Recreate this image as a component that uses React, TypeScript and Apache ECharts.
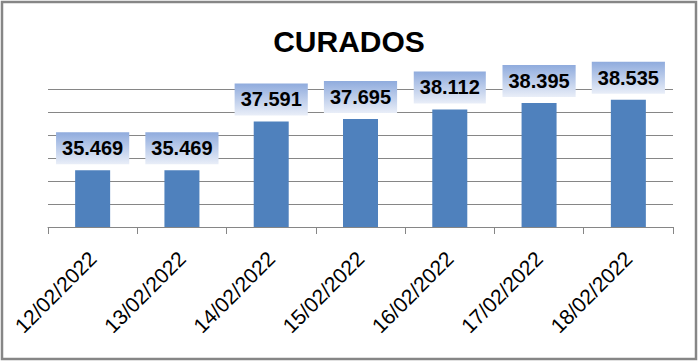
import React, { useEffect, useRef } from "react";
import * as echarts from "echarts";

const categories = ["12/02/2022", "13/02/2022", "14/02/2022", "15/02/2022", "16/02/2022", "17/02/2022", "18/02/2022"];
const curados = [35469, 35469, 37591, 37695, 38112, 38395, 38535];
const titleText = "CURADOS";

const fmt = (v: number) => {
  const s = String(Math.round(v));
  return s.replace(/\B(?=(\d{3})+(?!\d))/g, ".");
};

export default function App() {
  const ref = useRef<HTMLDivElement>(null);
  useEffect(() => {
    if (!ref.current) return;
    const chart = echarts.init(ref.current, undefined, { renderer: "svg" });
    const font = "'Liberation Sans', Arial, sans-serif";
    chart.setOption({
      animation: false,
      backgroundColor: "#ffffff",
      title: {
        text: titleText,
        left: "center",
        top: 26,
        padding: 0,
        textStyle: { fontFamily: font, fontSize: 30, fontWeight: "bold", color: "#000000" },
      },
      graphic: [
        {
          type: "rect",
          shape: { x: 2, y: 2, width: 694, height: 357 },
          style: { fill: "none", stroke: "#868686", lineWidth: 2.5 },
          silent: true,
          z: 100,
        },
      ],
      grid: { left: 48, right: 25, top: 89, height: 138, containLabel: false },
      xAxis: {
        type: "category",
        data: categories,
        axisLine: { show: true, lineStyle: { color: "#868686", width: 1 } },
        axisTick: { show: true, length: 7, lineStyle: { color: "#868686" } },
        axisLabel: {
          rotate: 45,
          margin: 28,
          fontFamily: font,
          fontSize: 21,
          color: "#000000",
          interval: 0,
        },
      },
      yAxis: {
        type: "value",
        min: 33000,
        max: 39000,
        interval: 1000,
        axisLine: { show: false },
        axisTick: { show: false },
        axisLabel: { show: false },
        splitLine: { show: true, lineStyle: { color: "#868686", width: 1 } },
      },
      series: [
        {
          type: "bar",
          data: curados,
          barWidth: 35,
          itemStyle: { color: "#4F81BD" },
          label: {
            show: true,
            position: "top",
            distance: 6,
            formatter: (p: any) => fmt(p.value),
            fontFamily: font,
            fontSize: 20,
            fontWeight: "bold",
            color: "#000000",
            lineHeight: 20,
            padding: [6, 6, 6, 6],
            backgroundColor: new echarts.graphic.LinearGradient(0, 0, 0, 1, [
              { offset: 0, color: "#8fabdd" },
              { offset: 1, color: "#e9eef8" },
            ]),
          },
        },
      ],
    });
    return () => chart.dispose();
  }, []);
  return <div ref={ref} style={{ width: 698, height: 361, position: "absolute", left: 0, top: 0 }} />;
}
